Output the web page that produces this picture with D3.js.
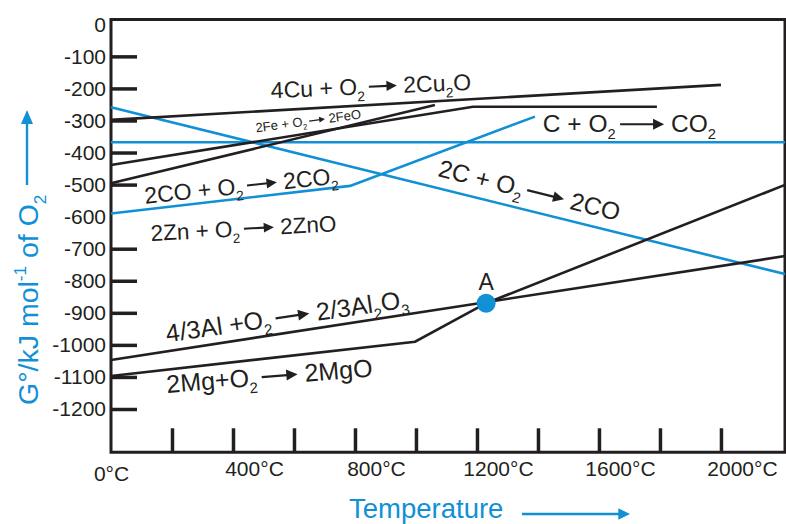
<!DOCTYPE html>
<html><head><meta charset="utf-8">
<script src="https://cdn.jsdelivr.net/npm/d3@7"></script>
<style>
body{margin:0;background:#fff;}
svg{display:block;font-family:"Liberation Sans",Arial,Helvetica,sans-serif;}
</style></head><body>
<svg id="chart" width="786" height="524"></svg>
<script>
// ---------- data ----------
const xTickMarks = [200,400,600,800,1000,1200,1400,1600,1800,2000];
const xTickLabels = [0,400,800,1200,1600,2000];
const yTickLabels = [0,-100,-200,-300,-400,-500,-600,-700,-800,-900,-1000,-1100,-1200];
const yTickMarks = [-100,-200,-300,-400,-500,-700,-800,-900,-1000,-1100,-1200];

const cuLine    = [[0,-298],[2000,-189]];
const feLine    = [[0,-439],[1187,-257],[1790,-257]];
const znLine    = [[0,-496],[1062,-252]];
const cCO2Line  = [[0,-368],[2210,-368]];
const cCOLine   = [[0,-259],[2210,-779]];
const coCO2Line = [[0,-590],[784,-504],[1390,-288]];
const alLine    = [[0,-1047],[2210,-723]];
const mgLine    = [[0,-1097],[997,-990],[1230,-870],[2210,-501]];
const pointA    = [1230,-870];

const reactions = [
  "4Cu + O_2 -> 2Cu_2O",
  "2Fe + O_2 -> 2FeO",
  "C + O_2 -> CO_2",
  "2C + O_2 -> 2CO",
  "2CO + O_2 -> 2CO_2",
  "2Zn + O_2 -> 2ZnO",
  "4/3Al +O_2 -> 2/3Al_2O_3",
  "2Mg+O_2 -> 2MgO"
];
const yTitle = "G°/kJ mol^-1 of O_2";
const xTitle = "Temperature";

// ---------- layout ----------
const BLUE = "#1190d5", INK = "#231f20";
const svg = d3.select("#chart");
const x = d3.scaleLinear().domain([0,2210]).range([111,785]);
const y = d3.scaleLinear().domain([0,-1200]).range([24.3,409]);
const frameTop = y(15), frameBottom = y(-1335);

// label anchors (data units), angle, font size, arrow length
const reactionLayout = [
  {T:525,  G:-231, angle:-2.4, fs:23, arrow:28},
  {T:476,  G:-337, angle:-7.5, fs:13, arrow:16},
  {T:1416, G:-337, angle:0,    fs:24.5, arrow:44},
  {T:1069, G:-473, angle:14,   fs:24.5, arrow:38},
  {T:112,  G:-560, angle:-6,   fs:23, arrow:30},
  {T:131,  G:-676, angle:-3,   fs:22.5, arrow:30},
  {T:184,  G:-992, angle:-8.2, fs:25, arrow:34},
  {T:184,  G:-1150,angle:-4.6, fs:25, arrow:36}
];

function parseRuns(s){
  const runs=[]; const re=/([_^])(-?\d+)/g; let last=0, m;
  while((m=re.exec(s))){
    if(m.index>last) runs.push({t:s.slice(last,m.index),shift:0});
    runs.push({t:m[2],shift:m[1]==='_'?1:-1});
    last=re.lastIndex;
  }
  if(last<s.length) runs.push({t:s.slice(last),shift:0});
  return runs;
}
function fillText(sel, str, fs){
  let cur=0;
  parseRuns(str).forEach(r=>{
    const target = r.shift===1 ? fs*0.28 : (r.shift===-1 ? -fs*0.42 : 0);
    const ts = sel.append("tspan").text(r.t).attr("dy", target-cur);
    if(r.shift!==0) ts.attr("font-size", fs*0.6);
    cur=target;
  });
}
function drawArrow(g, x0, x1, ay, fs, color){
  const head = Math.max(5, fs*0.45), hw = Math.max(2.6, fs*0.22);
  g.append("line").attr("x1",x0).attr("x2",x1-head+1).attr("y1",ay).attr("y2",ay)
    .attr("stroke",color).attr("stroke-width",Math.max(1.3,fs*0.09));
  g.append("path").attr("d",`M${x1-head},${ay-hw}L${x1},${ay}L${x1-head},${ay+hw}Z`).attr("fill",color);
}

// ---------- frame ----------
svg.append("path")
  .attr("d",`M${x(0)},${frameBottom}V${frameTop}H${x(2210)}V${frameBottom}Z`)
  .attr("fill","none").attr("stroke",INK).attr("stroke-width",3);

// y ticks (inside)
const yTickG = svg.append("g").attr("transform",`translate(${x(0)},0)`)
  .call(d3.axisRight(y).tickValues(yTickMarks).tickSize(26).tickFormat(""));
yTickG.select(".domain").remove();
yTickG.selectAll("line").attr("stroke",INK).attr("stroke-width",3.5);

// y labels
const yLabG = svg.append("g").attr("transform",`translate(${x(0)},0)`)
  .call(d3.axisLeft(y).tickValues(yTickLabels).tickSize(0).tickPadding(5).tickFormat(d=>String(d)));
yLabG.select(".domain").remove();
yLabG.attr("font-size",21).attr("font-family",null);
yLabG.selectAll("text").attr("fill",INK);

// x ticks (inside)
const xTickG = svg.append("g").attr("transform",`translate(0,${frameBottom})`)
  .call(d3.axisTop(x).tickValues(xTickMarks).tickSize(24).tickFormat(""));
xTickG.select(".domain").remove();
xTickG.selectAll("line").attr("stroke",INK).attr("stroke-width",3.5);

// x labels
const xLabG = svg.append("g").attr("transform",`translate(0,${frameBottom})`)
  .call(d3.axisBottom(x).tickValues(xTickLabels).tickSize(0).tickFormat(d=>d+"°C"));
xLabG.select(".domain").remove();
xLabG.attr("font-size",21).attr("font-family",null);
xLabG.selectAll("text").attr("fill",INK).attr("dy",null)
  .attr("y",d=>d>0?24:29)
  .attr("x",d=>d>0?21:0);

// ---------- lines ----------
const line = d3.line().x(d=>x(d[0])).y(d=>y(d[1]));
const blueSeries = [cCO2Line, cCOLine, coCO2Line];
const blackSeries = [cuLine, feLine, znLine, alLine, mgLine];
svg.append("g").selectAll("path").data(blueSeries).join("path")
  .attr("d",line).attr("fill","none").attr("stroke",BLUE).attr("stroke-width",2.6);
svg.append("g").selectAll("path").data(blackSeries).join("path")
  .attr("d",line).attr("fill","none").attr("stroke",INK).attr("stroke-width",2.6)
  .attr("stroke-linejoin","miter");

// point A
svg.append("circle").attr("cx",x(pointA[0])).attr("cy",y(pointA[1])).attr("r",9.5).attr("fill",BLUE);
svg.append("text").attr("x",x(pointA[0])).attr("y",y(pointA[1])-13)
  .attr("text-anchor","middle").attr("font-size",23).attr("fill",INK).text("A");

// ---------- reaction labels ----------
reactions.forEach((str,i)=>{
  const lay = reactionLayout[i];
  const fs = lay.fs;
  const g = svg.append("g")
    .attr("transform",`translate(${x(lay.T)},${y(lay.G)}) rotate(${lay.angle})`)
    .attr("font-size",fs).attr("fill",INK);
  const parts = str.split(" -> ");
  let cx = 0;
  parts.forEach((p,k)=>{
    if(k>0){
      const x0 = cx + fs*0.18;
      drawArrow(g, x0, x0+lay.arrow, -fs*0.33, fs, INK);
      cx = x0 + lay.arrow + fs*0.28;
    }
    const t = g.append("text").attr("x",cx).attr("y",0);
    fillText(t, p, fs);
    cx += t.node().getComputedTextLength();
  });
});

// ---------- axis titles ----------
const yt = svg.append("text").attr("transform","translate(38,405) rotate(-90)")
  .attr("font-size",28.5).attr("fill",BLUE);
fillText(yt, yTitle, 28.5);
svg.append("line").attr("x1",27).attr("x2",27).attr("y1",185).attr("y2",122)
  .attr("stroke",BLUE).attr("stroke-width",2.4);
svg.append("path").attr("d","M21,124L27,110L33,124Z").attr("fill",BLUE);

svg.append("text").attr("x",349).attr("y",518).attr("font-size",27.5).attr("fill",BLUE).text(xTitle);
drawArrow(svg.append("g"), 522, 630, 514, 26, BLUE);
</script>
</body></html>
